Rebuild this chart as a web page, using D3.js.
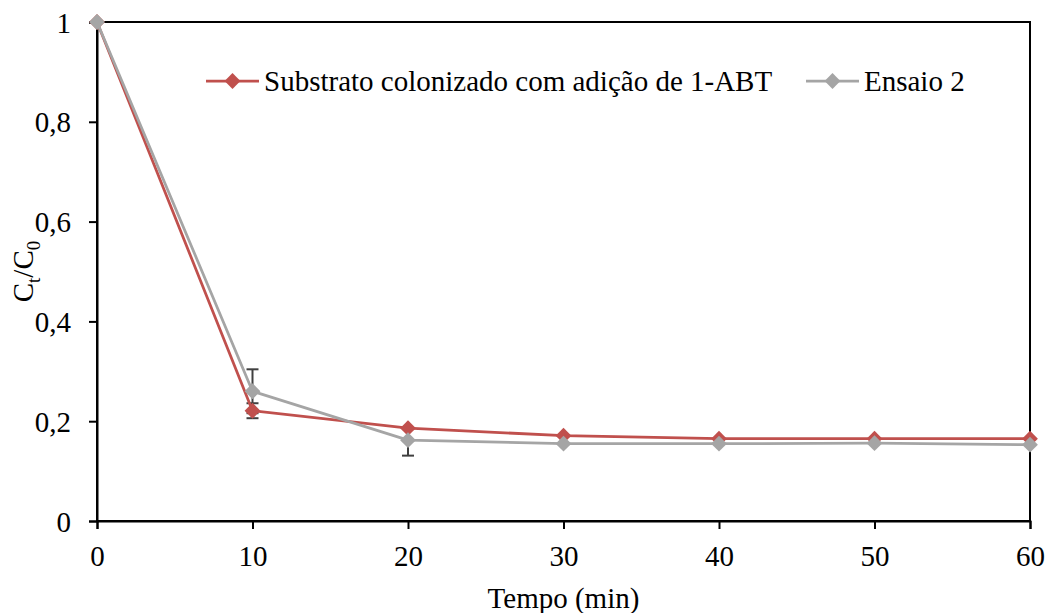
<!DOCTYPE html>
<html>
<head>
<meta charset="utf-8">
<script src="https://cdn.jsdelivr.net/npm/d3@7"></script>
<style>
  html, body { margin: 0; padding: 0; background: #fff; }
  svg { display: block; }
</style>
</head>
<body>
<svg id="chart" width="1051" height="613"></svg>
<script>
// Time points (min)
const tempo = [0, 10, 20, 30, 40, 50, 60];
// Ct/C0 for each series
const substrato = [1, 0.221, 0.186, 0.171, 0.165, 0.165, 0.165];
const ensaio2   = [1, 0.260, 0.162, 0.155, 0.155, 0.156, 0.153];
// Error bar extents (above / below each point)
const substratoErrUp   = [0, 0.015, 0, 0, 0, 0, 0];
const substratoErrDown = [0, 0.015, 0, 0, 0, 0, 0];
const ensaio2ErrUp     = [0, 0.044, 0, 0, 0, 0, 0];
const ensaio2ErrDown   = [0, 0.044, 0.031, 0, 0, 0, 0];
const seriesNames = ["Substrato colonizado com adição de 1-ABT", "Ensaio 2"];
const xTicks = [0, 10, 20, 30, 40, 50, 60];
const yTicks = [0, 0.2, 0.4, 0.6, 0.8, 1];

const FONT = "'Liberation Serif', 'Times New Roman', serif";
const FS = 29;

const svg = d3.select("#chart");
const m = { left: 97, right: 1030, top: 22, bottom: 521 };

const x = d3.scaleLinear().domain([0, 60]).range([m.left, m.right]);
const y = d3.scaleLinear().domain([0, 1]).range([m.bottom, m.top]);

const fmt = d => String(d).replace(".", ",");

// Plot frame
svg.append("rect")
  .attr("x", m.left).attr("y", m.top)
  .attr("width", m.right - m.left).attr("height", m.bottom - m.top)
  .attr("fill", "none").attr("stroke", "#000").attr("stroke-width", 2);

// Axes
const xAxis = svg.append("g").attr("transform", `translate(0,${m.bottom})`)
  .call(d3.axisBottom(x).tickValues(xTicks).tickSize(8).tickPadding(0).tickFormat(d => d));
const yAxis = svg.append("g").attr("transform", `translate(${m.left},0)`)
  .call(d3.axisLeft(y).tickValues(yTicks).tickSize(8).tickPadding(0).tickFormat(fmt));
[xAxis, yAxis].forEach(a => {
  a.attr("font-family", null).attr("font-size", null);
  a.select(".domain").attr("stroke", "#000").attr("stroke-width", 2);
  a.selectAll(".tick line").attr("stroke", "#000").attr("stroke-width", 2);
  a.selectAll(".tick text")
    .style("font-family", FONT).style("font-size", FS + "px").attr("fill", "#000");
});
xAxis.selectAll(".tick text").attr("y", 45).attr("dy", null);
yAxis.selectAll(".tick text").attr("x", -26).attr("y", 10).attr("dy", null);

// Axis titles
svg.append("text")
  .attr("x", (m.left + m.right) / 2).attr("y", 608)
  .attr("text-anchor", "middle")
  .style("font-family", FONT).style("font-size", FS + "px")
  .text("Tempo (min)");

const yt = svg.append("text")
  .attr("transform", `translate(33,${(m.top + m.bottom) / 2}) rotate(-90)`)
  .attr("text-anchor", "middle")
  .style("font-family", FONT).style("font-size", FS + "px");
yt.append("tspan").text("C");
yt.append("tspan").style("font-size", "19px").attr("dy", 7).text("t");
yt.append("tspan").attr("dy", -7).text("/C");
yt.append("tspan").style("font-size", "19px").attr("dy", 7).text("0");

const series = [
  { name: seriesNames[0], values: substrato, up: substratoErrUp, down: substratoErrDown, color: "#C0504D" },
  { name: seriesNames[1], values: ensaio2, up: ensaio2ErrUp, down: ensaio2ErrDown, color: "#A5A5A5" }
];

const line = d3.line().x((d, i) => x(tempo[i])).y(d => y(d));
const marker = d3.symbol().type(d3.symbolSquare).size(125);

// Error bars, drawn beneath lines and markers
series.forEach(s => {
  const g = svg.append("g").attr("stroke", "#404040").attr("stroke-width", 2);
  s.values.forEach((v, i) => {
    const cx = x(tempo[i]);
    const ends = [];
    if (s.up[i]) ends.push(v + s.up[i]);
    if (s.down[i]) ends.push(v - s.down[i]);
    ends.forEach(b => {
      g.append("line").attr("x1", cx).attr("x2", cx).attr("y1", y(v)).attr("y2", y(b));
      g.append("line").attr("x1", cx - 6).attr("x2", cx + 6).attr("y1", y(b)).attr("y2", y(b));
    });
  });
});

// Lines and diamond markers
series.forEach(s => {
  svg.append("path").datum(s.values)
    .attr("d", line).attr("fill", "none")
    .attr("stroke", s.color).attr("stroke-width", 2.75)
    .attr("stroke-linejoin", "round");
  svg.append("g").selectAll("path").data(s.values).join("path")
    .attr("d", marker)
    .attr("transform", (d, i) => `translate(${x(tempo[i])},${y(d)}) rotate(45)`)
    .attr("fill", s.color);
});

// Legend
const legendX = [206, 806];
const ly = 81;
series.forEach((s, k) => {
  const x0 = legendX[k];
  svg.append("line").attr("x1", x0).attr("x2", x0 + 53)
    .attr("y1", ly).attr("y2", ly)
    .attr("stroke", s.color).attr("stroke-width", 2.75);
  svg.append("path")
    .attr("d", marker)
    .attr("transform", `translate(${x0 + 26.5},${ly}) rotate(45)`)
    .attr("fill", s.color);
  svg.append("text").attr("x", x0 + 58).attr("y", ly + 10)
    .style("font-family", FONT).style("font-size", FS + "px")
    .text(s.name);
});
</script>
</body>
</html>
